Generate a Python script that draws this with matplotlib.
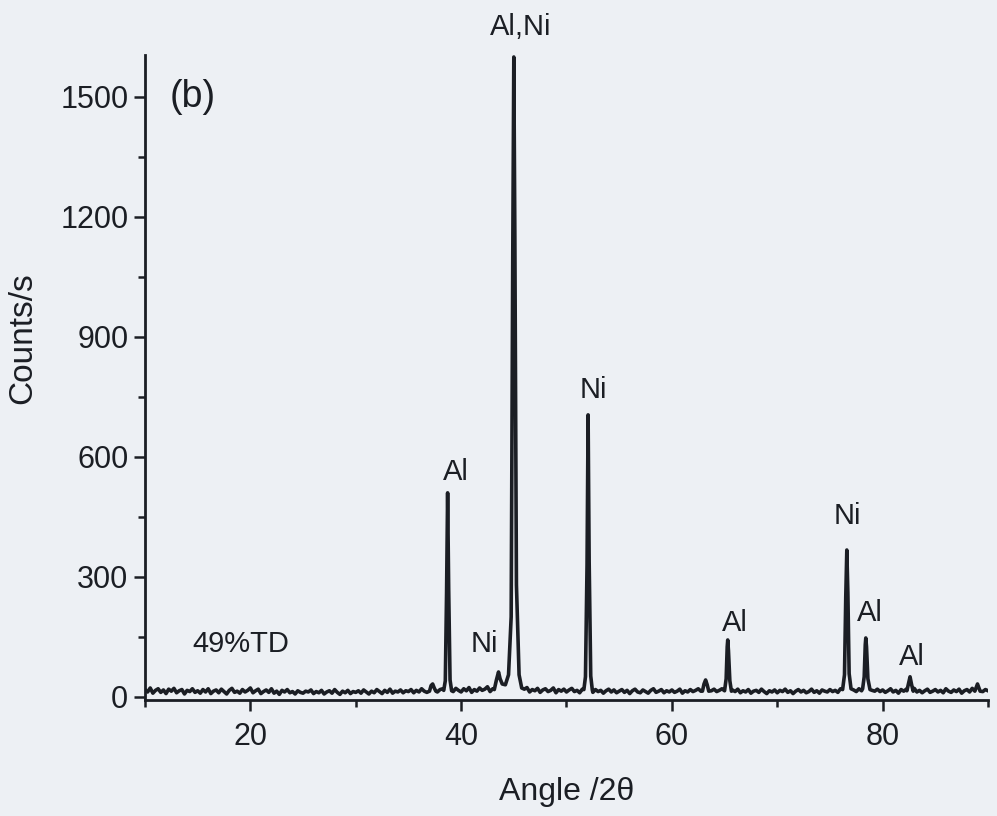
import matplotlib.pyplot as plt
import numpy as np

plt.rcParams['font.family'] = ['Liberation Sans', 'DejaVu Sans']

# background trace, sampled every 0.25 deg from 10 deg
base_start = 10.0
base_step = 0.25
base_counts = [
    18, 12, 22, 9, 16, 20, 11, 17, 8, 19, 14, 21, 10, 15, 18, 7, 16, 13, 20, 11,
    15, 9, 18, 12, 20, 8, 14, 17, 10, 19, 13, 7, 16, 21, 11, 14, 9, 18, 12, 16,
    22, 10, 15, 19, 8, 13, 17, 11, 20, 9, 14, 6, 16, 12, 18, 10, 13, 7, 15, 11,
    9, 14, 12, 17, 8, 13, 10, 16, 7, 12, 15, 9, 18, 11, 6, 14, 10, 16, 8, 13,
    11, 15, 9, 17, 12, 7, 14, 10, 18, 13, 8, 16, 11, 19, 9, 14, 12, 17, 10, 15,
    13, 18, 10, 16, 12, 20, 14, 11, 17, 22, 15, 12, 18, 20, 15, 14, 19, 13, 21, 16,
    12, 20, 15, 23, 11, 18, 14, 22, 16, 19, 25, 13, 20, 17, 24, 19, 22, 26, 20, 18,
    24, 16, 21, 14, 19, 23, 12, 18, 15, 21, 11, 17, 20, 13, 16, 22, 10, 18, 14, 19,
    12, 17, 21, 13, 16, 10, 19, 15, 20, 14, 11, 18, 13, 16, 9, 15, 19, 12, 17, 10,
    14, 18, 11, 16, 8, 15, 19, 12, 10, 17, 13, 9, 16, 20, 11, 14, 18, 10, 15, 12,
    17, 11, 14, 19, 9, 15, 12, 18, 13, 16, 20, 14, 18, 22, 17, 15, 19, 13, 16, 20,
    14, 18, 12, 17, 13, 19, 10, 15, 12, 18, 9, 14, 16, 11, 19, 13, 8, 15, 12, 17,
    10, 16, 13, 19, 11, 15, 8, 14, 18, 12, 16, 10, 13, 19, 11, 15, 9, 17, 14, 12,
    18, 13, 16, 11, 20, 15, 19, 14, 22, 17, 13, 20, 15, 18, 12, 21, 16, 14, 19, 13,
    17, 11, 15, 20, 12, 16, 9, 18, 14, 19, 13, 17, 21, 12, 16, 10, 15, 19, 11, 14,
    18, 12, 16, 10, 20, 14, 11, 17, 13, 19, 9, 15, 18, 12, 21, 14, 32, 14, 13, 18,
    15,
]

# diffraction peaks (angle, counts)
peak_angles = [
    [37.0, 37.15, 37.3, 37.45, 37.6],
    [38.35, 38.5, 38.62, 38.72, 38.82, 38.95, 39.1],
    [43.15, 43.35, 43.55, 43.7, 43.9, 44.2, 44.5, 44.75, 44.9, 45.0, 45.1, 45.25, 45.5, 45.75],
    [51.65, 51.8, 51.95, 52.05, 52.15, 52.3, 52.45],
    [62.9, 63.05, 63.2, 63.35, 63.5],
    [65.0, 65.15, 65.25, 65.3, 65.37, 65.5, 65.65],
    [76.2, 76.38, 76.5, 76.6, 76.7, 76.82, 77.0],
    [78.1, 78.25, 78.35, 78.4, 78.47, 78.6, 78.8],
    [82.3, 82.45, 82.6, 82.75, 82.9],
]
peak_counts = [
    [14, 28, 32, 22, 14],
    [16, 40, 260, 510, 270, 42, 15],
    [18, 42, 62, 45, 32, 30, 55, 200, 1100, 1600, 1150, 280, 55, 22],
    [18, 50, 330, 705, 340, 52, 17],
    [14, 32, 42, 30, 14],
    [15, 45, 125, 142, 115, 40, 14],
    [18, 55, 250, 367, 260, 58, 20],
    [20, 50, 130, 147, 125, 45, 18],
    [15, 32, 50, 30, 14],
]

peak_labels = ['Al,Ni', 'Al', 'Ni', 'Ni', 'Al', 'Ni', 'Al', 'Al']
label_x = [45.63, 39.49, 42.23, 52.53, 65.95, 76.63, 78.81, 82.78]
label_y = [1675, 562, 132, 767, 185, 452, 210, 100]

# assemble the trace
base_x = base_start + base_step * np.arange(len(base_counts))
base_y = np.array(base_counts, dtype=float)
keep = np.ones(len(base_x), dtype=bool)
for pa in peak_angles:
    keep &= ~((base_x >= min(pa)) & (base_x <= max(pa)))
xs = np.concatenate([base_x[keep]] + [np.array(p) for p in peak_angles])
ys = np.concatenate([base_y[keep]] + [np.array(p, dtype=float) for p in peak_counts])
order = np.argsort(xs)
xs, ys = xs[order], ys[order]

bg = '#edf0f4'
ink = '#1b1e24'

fig = plt.figure(figsize=(9.97, 8.16), dpi=100, facecolor=bg)
ax = fig.add_axes([0.1454, 0.1422, 0.8456, 0.7904], facecolor=bg)

ax.plot(xs, ys, color=ink, lw=2.6, solid_joinstyle='round')

ax.set_xlim(10, 90)
ax.set_ylim(-8, 1605)
ax.set_xticks([20, 40, 60, 80])
ax.set_xticks([10, 30, 50, 70, 90], minor=True)
ax.set_yticks([0, 300, 600, 900, 1200, 1500])
ax.set_yticks([150, 450, 750, 1050, 1350], minor=True)

for s in ['top', 'right']:
    ax.spines[s].set_visible(False)
for s in ['left', 'bottom']:
    ax.spines[s].set_linewidth(2)
    ax.spines[s].set_color(ink)

ax.tick_params(axis='both', which='major', direction='out', length=8, width=1.8,
               labelsize=22, colors=ink, pad=4)
ax.tick_params(axis='x', which='major', pad=8)
ax.tick_params(axis='both', which='minor', direction='out', length=5, width=1.8, colors=ink)

fig.text(23 / 997, 1 - 338 / 816, 'Counts/s', rotation=90, ha='center', va='center',
         fontsize=24, color=ink)
fig.text(567 / 997, 1 - 792 / 816, 'Angle /2θ', ha='center', va='center',
         fontsize=23, color=ink)

for lab, lx, ly in zip(peak_labels, label_x, label_y):
    ax.text(lx, ly, lab, ha='center', va='center', fontsize=21, color=ink, clip_on=False)

ax.text(19.07, 132, '49%TD', ha='center', va='center', fontsize=21, color=ink)
ax.text(14.54, 1500, '(b)', ha='center', va='center', fontsize=27, color=ink)

fig.savefig('out.png', dpi=100, facecolor=bg)
